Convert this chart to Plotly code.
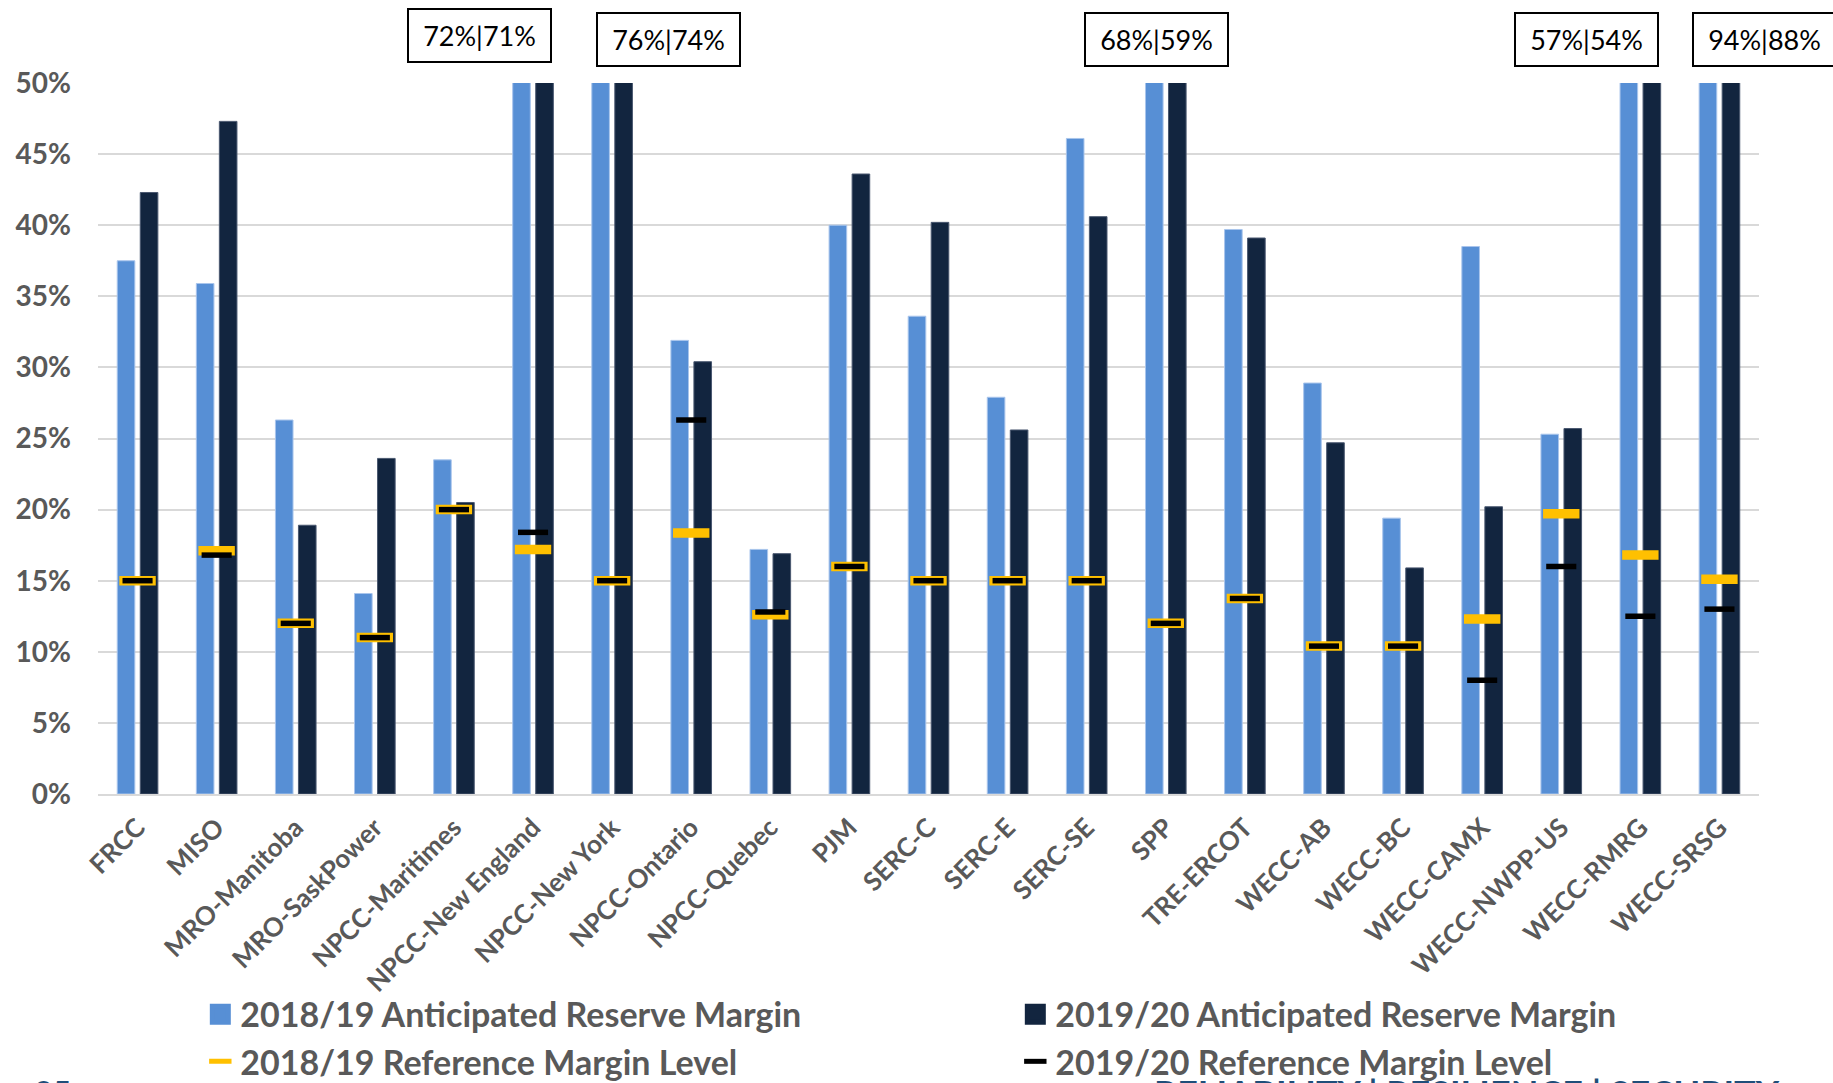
import plotly.graph_objects as go

# ---------------- data ----------------
categories = ["FRCC", "MISO", "MRO-Manitoba", "MRO-SaskPower", "NPCC-Maritimes",
              "NPCC-New England", "NPCC-New York", "NPCC-Ontario", "NPCC-Quebec",
              "PJM", "SERC-C", "SERC-E", "SERC-SE", "SPP", "TRE-ERCOT", "WECC-AB",
              "WECC-BC", "WECC-CAMX", "WECC-NWPP-US", "WECC-RMRG", "WECC-SRSG"]

anticipated_2018_19 = [0.375, 0.359, 0.263, 0.141, 0.235, 0.72, 0.76, 0.319, 0.172,
                       0.400, 0.336, 0.279, 0.461, 0.68, 0.397, 0.289, 0.194, 0.385,
                       0.253, 0.57, 0.94]
anticipated_2019_20 = [0.423, 0.473, 0.189, 0.236, 0.205, 0.71, 0.74, 0.304, 0.169,
                       0.436, 0.402, 0.256, 0.406, 0.59, 0.391, 0.247, 0.159, 0.202,
                       0.257, 0.54, 0.88]
reference_2018_19 = [0.15, 0.171, 0.12, 0.11, 0.20, 0.172, 0.15, 0.1835, 0.126,
                     0.160, 0.15, 0.15, 0.15, 0.12, 0.1375, 0.104, 0.104, 0.123,
                     0.197, 0.168, 0.151]
reference_2019_20 = [0.15, 0.168, 0.12, 0.11, 0.20, 0.184, 0.15, 0.263, 0.128,
                     0.160, 0.15, 0.15, 0.15, 0.12, 0.1375, 0.104, 0.104, 0.080,
                     0.160, 0.125, 0.130]

series_names = ["2018/19 Anticipated Reserve Margin", "2019/20 Anticipated Reserve Margin",
                "2018/19 Reference Margin Level", "2019/20 Reference Margin Level"]

# callout boxes for off-scale values (layout positions, paper coords)
callout_positions = {
    "NPCC-New England": (0.2295, 1.0675),
    "NPCC-New York": (0.3433, 1.0612),
    "SPP": (0.6375, 1.0612),
    "WECC-RMRG": (0.8959, 1.0612),
    "WECC-SRSG": (1.0036, 1.0612),
}

# ---------------- style ----------------
C_LIGHT = "#578FD5"
C_DARK = "#12253F"
C_YELLOW = "#FFC000"
C_BLACK = "#000000"
GREY_TXT = "#595959"
FONT = "Lato"

fig = go.Figure()

fig.add_trace(go.Bar(
    x=categories, y=anticipated_2018_19, name=series_names[0],
    marker=dict(color=C_LIGHT, line=dict(color="#A9C5EC", width=1)),
    showlegend=False))
fig.add_trace(go.Bar(
    x=categories, y=anticipated_2019_20, name=series_names[1],
    marker=dict(color=C_DARK, line=dict(color="#4A5870", width=1)),
    showlegend=False))

fig.add_trace(go.Scatter(
    x=categories, y=reference_2018_19, name=series_names[2], mode="markers",
    marker=dict(symbol="line-ew", size=26, line=dict(color=C_YELLOW, width=9.5)),
    legendrank=3))
fig.add_trace(go.Scatter(
    x=categories, y=reference_2019_20, name=series_names[3], mode="markers",
    marker=dict(symbol="line-ew", size=21.5, line=dict(color=C_BLACK, width=5.5)),
    legendrank=4))

# legend entries for bars (larger square icons)
fig.add_trace(go.Scatter(
    x=[None], y=[None], name=series_names[0], mode="markers",
    marker=dict(symbol="square", size=16, color=C_LIGHT, line=dict(color=C_LIGHT, width=5)),
    legendrank=1))
fig.add_trace(go.Scatter(
    x=[None], y=[None], name=series_names[1], mode="markers",
    marker=dict(symbol="square", size=16, color=C_DARK, line=dict(color=C_DARK, width=5)),
    legendrank=2))

annotations = []
for cat, (px, py) in callout_positions.items():
    i = categories.index(cat)
    txt = f"{round(anticipated_2018_19[i] * 100)}%|{round(anticipated_2019_20[i] * 100)}%"
    annotations.append(dict(
        xref="paper", yref="paper", x=px, y=py, text=txt, showarrow=False,
        font=dict(family=FONT, size=27, color="#000000"),
        bgcolor="#FFFFFF", bordercolor="#000000", borderwidth=2, borderpad=0,
        width=141, height=51, xanchor="center", yanchor="middle"))

# partially visible slide footer
annotations.append(dict(
    xref="paper", yref="paper", x=-0.0397, y=-0.390, text="<b>25</b>", showarrow=False,
    xanchor="left", yanchor="top", font=dict(family=FONT, size=32, color="#1F4E79")))
annotations.append(dict(
    xref="paper", yref="paper", x=0.6346, y=-0.387,
    text="<b>RELIABILITY | RESILIENCE | SECURITY</b>", showarrow=False,
    xanchor="left", yanchor="top", font=dict(family=FONT, size=36, color="#1F4E79")))

fig.update_layout(
    width=1833, height=1083,
    margin=dict(l=98, r=74, t=83, b=289, autoexpand=False),
    paper_bgcolor="#FFFFFF", plot_bgcolor="#FFFFFF",
    barmode="group", bargap=0.418, bargroupgap=0.235,
    font=dict(family=FONT, color=GREY_TXT),
    showlegend=True,
    legend=dict(
        orientation="h", xref="paper", yref="container",
        x=0.0616, y=0.090, xanchor="left", yanchor="top",
        entrywidth=770, entrywidthmode="pixels",
        font=dict(family=FONT, size=34, color=GREY_TXT, weight="bold"),
        bgcolor="rgba(0,0,0,0)", itemclick=False, itemdoubleclick=False),
    annotations=annotations,
)

fig.update_xaxes(
    type="category", range=[-0.5, len(categories) - 0.5],
    tickangle=-45, showgrid=False, ticks="",
    showline=True, linecolor="#D9D9D9", linewidth=2,
    tickfont=dict(family=FONT, size=26, color=GREY_TXT, weight="bold"),
    ticklabelstandoff=6,
)
fig.update_yaxes(
    range=[0, 0.5], tickvals=[0, 0.05, 0.10, 0.15, 0.20, 0.25, 0.30, 0.35, 0.40, 0.45, 0.50],
    tickformat=".0%", showgrid=True, gridcolor="#D9D9D9", gridwidth=2,
    zeroline=False, showline=False, ticks="",
    tickfont=dict(family=FONT, size=28, color=GREY_TXT, weight="bold"),
    ticklabelstandoff=26,
)

fig.write_html("out.html")
